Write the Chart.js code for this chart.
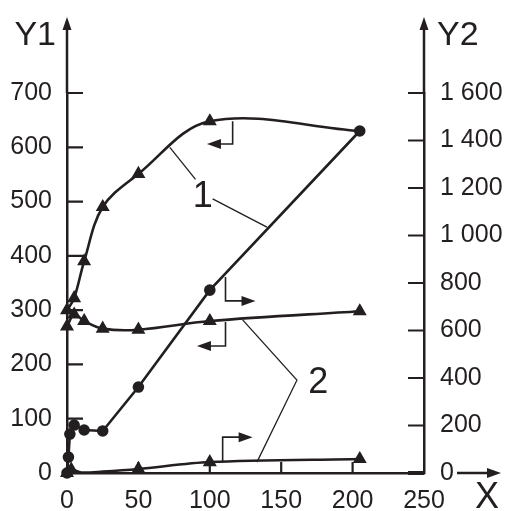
<!DOCTYPE html>
<html>
<head>
<meta charset="utf-8">
<script src="https://cdn.jsdelivr.net/npm/chart.js@4/dist/chart.umd.min.js"></script>
<style>
  html, body { margin: 0; padding: 0; background: #fff; }
  #wrap { width: 505px; height: 511px; }
</style>
</head>
<body>
<div id="wrap"><canvas id="chart"></canvas></div>
<script>
// curve 1, triangles, left axis (Y1)
var xTri1 = [0, 5, 12, 25, 50, 100, 205];
var tri1 = [300, 322, 390, 490, 551, 648, 630];
// curve 1, circles, right axis (Y2)
var xCirc = [0, 1, 2, 5, 12, 25, 50, 100, 205];
var circ = [0, 67, 164, 202, 181, 177, 362, 770, 1440];
// curve 2, triangles, left axis (Y1)
var xTri2 = [0, 5, 12, 25, 50, 100, 205];
var tri2 = [270, 292, 280, 266, 264, 280, 298];
// curve 2, triangles, right axis (Y2)
var xTri3 = [0, 3, 10, 25, 50, 100, 205];
var tri3 = [0, 14, 2, 6, 17, 46, 59];

var xTicks = [50, 100, 150, 200];
var y1Ticks = [100, 200, 300, 400, 500, 600, 700];
var y2Ticks = [200, 400, 600, 800, 1000, 1200, 1400, 1600];

var ink = '#231f20';
var font = '"Liberation Sans", Arial, sans-serif';

function pts(xs, ys) {
    var out = [];
    for (var i = 0; i < xs.length; i++) out.push({ x: xs[i], y: ys[i] });
    return out;
}
function radii(xs, hidden, r) {
    return xs.map(function (v, i) { return hidden.indexOf(i) >= 0 ? 0 : r; });
}

// bracket arrows, leaders and labels in data units (x, Y1)
var brackets = [
    { x: 116, y0: 648, y1: 606, x1: 98 },
    { x: 111, y0: 361, y1: 317, x1: 132 },
    { x: 111, y0: 278, y1: 234, x1: 91 },
    { x: 109, y0: 20, y1: 66, x1: 130 }
];
var leaders = [
    [[72, 600], [90, 541]],
    [[102, 505], [140, 453]],
    [[123, 282], [161, 171], [133, 20]]
];
var marks = [{ t: '1', x: 95, y: 508 }, { t: '2', x: 176, y: 166 }];

function arrowHead(ctx, x, y, dir) {
    // dir: 'up' or 'right' or 'left'
    ctx.beginPath();
    if (dir === 'up') {
        ctx.moveTo(x, y); ctx.lineTo(x - 4.5, y + 13); ctx.lineTo(x + 4.5, y + 13);
    } else if (dir === 'right') {
        ctx.moveTo(x, y); ctx.lineTo(x - 14, y - 5); ctx.lineTo(x - 14, y + 5);
    } else {
        ctx.moveTo(x, y); ctx.lineTo(x + 14, y - 5); ctx.lineTo(x + 14, y + 5);
    }
    ctx.closePath();
    ctx.fill();
}

var decor = {
    id: 'decor',
    afterDraw: function (chart) {
        var ctx = chart.ctx;
        var a = chart.chartArea;
        var sx = chart.scales.x, s1 = chart.scales.y, s2 = chart.scales.y2;
        ctx.save();
        ctx.strokeStyle = ink;
        ctx.fillStyle = ink;
        ctx.lineWidth = 2.2;

        // inward ticks
        ctx.beginPath();
        xTicks.forEach(function (v) {
            var p = sx.getPixelForValue(v);
            ctx.moveTo(p, a.bottom); ctx.lineTo(p, a.bottom - 11);
        });
        y1Ticks.forEach(function (v) {
            var p = s1.getPixelForValue(v);
            ctx.moveTo(a.left, p); ctx.lineTo(a.left + 16, p);
        });
        y2Ticks.forEach(function (v) {
            var p = s2.getPixelForValue(v);
            ctx.moveTo(a.right, p); ctx.lineTo(a.right - 16, p);
        });
        ctx.stroke();
        ctx.lineWidth = 4;
        ctx.beginPath();
        ctx.moveTo(a.right - 16, a.bottom); ctx.lineTo(a.right, a.bottom);
        ctx.stroke();

        // axis arrows
        ctx.lineWidth = 2.5;
        ctx.beginPath();
        ctx.moveTo(a.left, a.top); ctx.lineTo(a.left, 28);
        ctx.moveTo(a.right, a.top); ctx.lineTo(a.right, 28);
        ctx.moveTo(457, a.bottom); ctx.lineTo(490, a.bottom);
        ctx.stroke();
        arrowHead(ctx, a.left, 17, 'up');
        arrowHead(ctx, a.right, 17, 'up');
        arrowHead(ctx, 501, a.bottom, 'right');

        // axis titles
        ctx.font = '34px ' + font;
        ctx.textBaseline = 'alphabetic';
        ctx.textAlign = 'right';
        ctx.fillText('Y1', a.left - 11, 45);
        ctx.textAlign = 'left';
        ctx.fillText('Y2', a.right + 13, 45);
        ctx.font = '36px ' + font;
        ctx.fillText('X', 475, 508);

        // bracket arrows
        ctx.lineWidth = 1.6;
        brackets.forEach(function (b) {
            var px = sx.getPixelForValue(b.x), p0 = s1.getPixelForValue(b.y0);
            var p1 = s1.getPixelForValue(b.y1), px1 = sx.getPixelForValue(b.x1);
            var dir = b.x1 > b.x ? 'right' : 'left';
            ctx.beginPath();
            ctx.moveTo(px, p0); ctx.lineTo(px, p1);
            ctx.lineTo(px1 + (dir === 'right' ? -10 : 10), p1);
            ctx.stroke();
            arrowHead(ctx, px1, p1, dir);
        });

        // leader lines
        ctx.lineWidth = 1.3;
        leaders.forEach(function (l) {
            ctx.beginPath();
            l.forEach(function (p, i) {
                var px = sx.getPixelForValue(p[0]), py = s1.getPixelForValue(p[1]);
                if (i === 0) ctx.moveTo(px, py); else ctx.lineTo(px, py);
            });
            ctx.stroke();
        });

        ctx.font = '36px ' + font;
        ctx.textAlign = 'center';
        ctx.textBaseline = 'middle';
        marks.forEach(function (m) {
            ctx.fillText(m.t, sx.getPixelForValue(m.x), s1.getPixelForValue(m.y));
        });
        ctx.restore();
    }
};

var base = {
    borderColor: ink,
    backgroundColor: ink,
    pointBorderColor: ink,
    pointBackgroundColor: ink,
    borderWidth: 2.6,
    clip: false
};

var datasets = [
    Object.assign({}, base, {
        data: pts(xTri1, tri1), yAxisID: 'y', tension: 0.35,
        pointStyle: 'triangle', pointRadius: radii(xTri1, [6], 5.5)
    }),
    Object.assign({}, base, {
        data: pts(xCirc, circ), yAxisID: 'y2', tension: 0,
        pointStyle: 'circle', pointRadius: 4.5
    }),
    Object.assign({}, base, {
        data: pts(xTri2, tri2), yAxisID: 'y', tension: 0.35,
        pointStyle: 'triangle', pointRadius: 5.5
    }),
    Object.assign({}, base, {
        data: pts(xTri3, tri3), yAxisID: 'y2', tension: 0.3,
        pointStyle: 'triangle', pointRadius: radii(xTri3, [2, 3], 5.5)
    })
];

var tickFont = { family: font, size: 25 };

new Chart(document.getElementById('chart'), {
    type: 'line',
    data: { datasets: datasets },
    options: {
        responsive: true,
        maintainAspectRatio: false,
        animation: false,
        layout: { padding: { top: 93, left: 0, right: 0, bottom: 0 } },
        plugins: { legend: { display: false }, tooltip: { enabled: false } },
        scales: {
            x: {
                type: 'linear', min: 0, max: 250,
                grid: { display: false },
                border: { display: true, color: ink, width: 2.5 },
                ticks: { stepSize: 50, padding: 5, color: ink, font: tickFont, maxRotation: 0 },
                afterFit: function (s) { s.height = 38; }
            },
            y: {
                position: 'left', min: 0, max: 700,
                grid: { display: false },
                border: { display: true, color: ink, width: 2.5 },
                ticks: { stepSize: 100, padding: 7, color: ink, font: tickFont },
                afterFit: function (s) { s.width = 67; }
            },
            y2: {
                position: 'right', min: 0, max: 1600,
                grid: { display: false },
                border: { display: true, color: ink, width: 2.5 },
                ticks: {
                    stepSize: 200, padding: 8, color: ink, font: tickFont,
                    callback: function (v) { return String(v).replace(/\B(?=(\d{3})+$)/, ' '); }
                },
                afterFit: function (s) { s.width = 81; }
            }
        }
    },
    plugins: [decor]
});
</script>
</body>
</html>
